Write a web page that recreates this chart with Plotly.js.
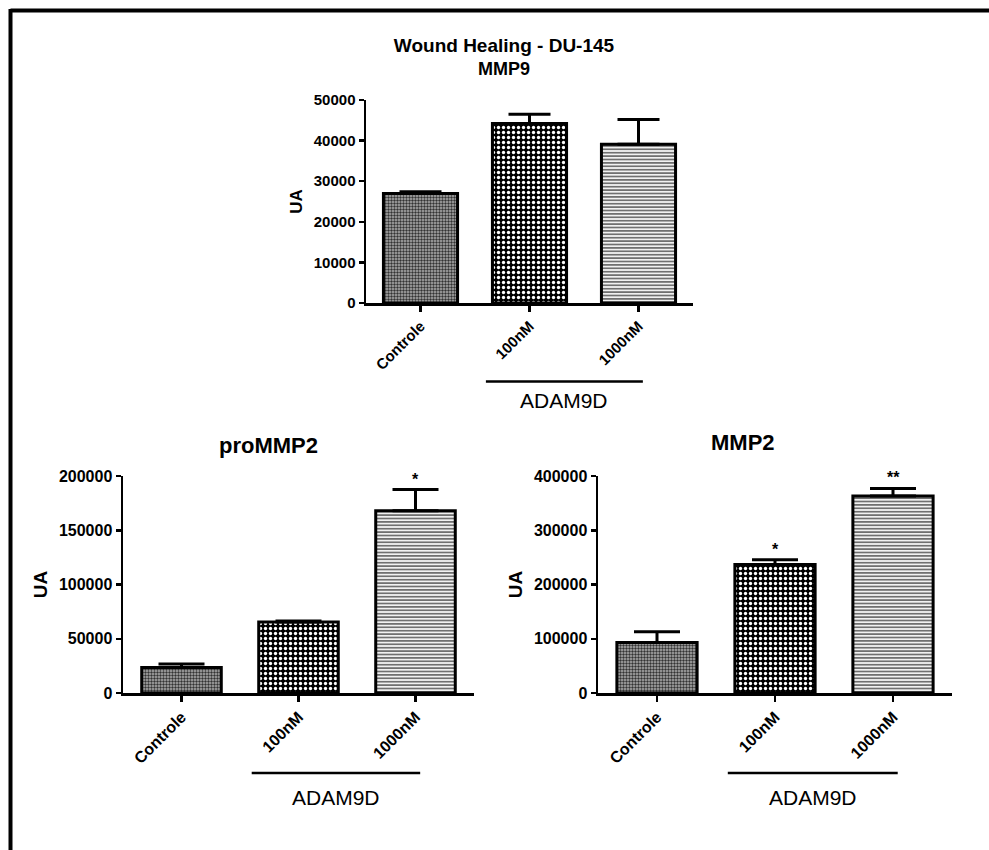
<!DOCTYPE html>
<html>
<head>
<meta charset="utf-8">
<script src="https://cdn.plot.ly/plotly-3.0.1.min.js"></script>
<style>
html,body{margin:0;padding:0;background:#fff;}
#chart{width:989px;height:850px;}
</style>
</head>
<body>
<div id="chart"></div>
<script>
// ---- data ----
const categories = ['Controle', '100nM', '1000nM'];

const mmp9Means = [27000, 44200, 39100];
const mmp9Err = [400, 2300, 6100];

const proMmp2Means = [23600, 65500, 168000];
const proMmp2Err = [3100, 800, 19500];

const mmp2Means = [93000, 237000, 363000];
const mmp2Err = [20000, 8500, 14000];

const mmp9Ticks = [0, 10000, 20000, 30000, 40000, 50000];
const proMmp2Ticks = [0, 50000, 100000, 150000, 200000];
const mmp2Ticks = [0, 100000, 200000, 300000, 400000];

const proMmp2Sig = ['', '', '*'];
const mmp2Sig = ['', '*', '**'];

const mainTitle = 'Wound Healing - DU-145';
const mainSubtitle = 'MMP9';
const proMmp2Title = 'proMMP2';
const mmp2Title = 'MMP2';
const yTitle = 'UA';
const groupLabel = 'ADAM9D';

// ---- layout helpers ----
const W = 989, H = 850;
const px = v => v / W;
const py = v => 1 - v / H;
const FONT = 'Liberation Sans, Arial, Helvetica, sans-serif';

const patternStyle = {
  shape: ['.', '.', '-'],
  fgcolor: ['#333333', '#ffffff', '#707070'],
  bgcolor: ['#b0b0b0', '#000000', '#ffffff'],
  size: [3, 5, 3.4],
  solidity: [0.5, 0.35, 0.55],
  fillmode: 'replace'
};

function barTrace(vals, errs, xa, ya, capw) {
  return {
    type: 'bar',
    x: categories,
    y: vals,
    xaxis: xa, yaxis: ya,
    width: 0.68,
    marker: {
      color: '#ffffff',
      line: {color: '#000', width: 3},
      pattern: patternStyle
    },
    error_y: {
      type: 'data', symmetric: false,
      array: errs, arrayminus: errs.map(() => 0),
      color: '#000', thickness: 3, width: capw
    },
    hoverinfo: 'x+y',
    showlegend: false
  };
}

function xAxis(d0, d1, anchor, fs) {
  return {
    domain: [px(d0), px(d1)], anchor: anchor,
    type: 'category', range: [-0.5, 2.5],
    showline: true, linecolor: '#000', linewidth: 2.5,
    ticks: 'outside', ticklen: 6, tickwidth: 2.5, tickcolor: '#000',
    tickangle: -45,
    tickfont: {family: FONT, size: fs, color: '#000', weight: 'bold'},
    showgrid: false, zeroline: false, fixedrange: true
  };
}

function yAxis(y0, y1, anchor, ticks, fs, tfs, standoff) {
  return {
    domain: [py(y0), py(y1)], anchor: anchor,
    range: [ticks[0], ticks[ticks.length - 1]],
    tickvals: ticks, tickformat: 'd',
    showline: true, linecolor: '#000', linewidth: 2.5,
    ticks: 'outside', ticklen: 5, tickwidth: 2.5, tickcolor: '#000',
    tickfont: {family: FONT, size: fs, color: '#000', weight: 'bold'},
    title: {text: yTitle, font: {family: FONT, size: tfs, color: '#000', weight: 'bold'}, standoff: standoff},
    showgrid: false, zeroline: false, fixedrange: true
  };
}

const data = [
  barTrace(mmp9Means, mmp9Err, 'x', 'y', 21),
  barTrace(proMmp2Means, proMmp2Err, 'x2', 'y2', 23),
  barTrace(mmp2Means, mmp2Err, 'x3', 'y3', 23)
];

const annotations = [
  {text: '<b>' + mainSubtitle + '</b>', xref: 'paper', yref: 'paper', x: px(504), y: py(69),
   xanchor: 'center', yanchor: 'middle', showarrow: false, font: {family: FONT, size: 18, color: '#000'}},
  {text: '<b>' + proMmp2Title + '</b>', xref: 'paper', yref: 'paper', x: px(268), y: py(445),
   xanchor: 'center', yanchor: 'middle', showarrow: false, font: {family: FONT, size: 22, color: '#000'}},
  {text: '<b>' + mmp2Title + '</b>', xref: 'paper', yref: 'paper', x: px(743), y: py(443),
   xanchor: 'center', yanchor: 'middle', showarrow: false, font: {family: FONT, size: 22, color: '#000'}},
  {text: groupLabel, xref: 'x', yref: 'paper', x: 1.32, y: py(401),
   xanchor: 'center', yanchor: 'middle', showarrow: false, font: {family: FONT, size: 21, color: '#000'}},
  {text: groupLabel, xref: 'x2', yref: 'paper', x: 1.32, y: py(797),
   xanchor: 'center', yanchor: 'middle', showarrow: false, font: {family: FONT, size: 21, color: '#000'}},
  {text: groupLabel, xref: 'x3', yref: 'paper', x: 1.32, y: py(797),
   xanchor: 'center', yanchor: 'middle', showarrow: false, font: {family: FONT, size: 21, color: '#000'}}
];

proMmp2Sig.forEach((s, i) => {
  if (!s) return;
  annotations.push({text: '<b>' + s + '</b>', xref: 'x2', yref: 'y2', x: categories[i],
    y: proMmp2Means[i] + proMmp2Err[i], xanchor: 'center', yanchor: 'bottom',
    showarrow: false, font: {family: FONT, size: 16, color: '#000'}});
});
mmp2Sig.forEach((s, i) => {
  if (!s) return;
  annotations.push({text: '<b>' + s + '</b>', xref: 'x3', yref: 'y3', x: categories[i],
    y: mmp2Means[i] + mmp2Err[i], xanchor: 'center', yanchor: 'bottom',
    showarrow: false, font: {family: FONT, size: 16, color: '#000'}});
});

const groupLine = (xr, yp) => ({type: 'line', xref: xr, yref: 'paper',
  x0: 0.6, x1: 2.04, y0: py(yp), y1: py(yp), line: {color: '#000', width: 2.5}});

const shapes = [
  groupLine('x', 381.5),
  groupLine('x2', 773),
  groupLine('x3', 773),
  // outer frame (left and top edges)
  {type: 'line', xref: 'paper', yref: 'paper', x0: px(10.5), x1: 1, y0: py(10.5), y1: py(10.5), line: {color: '#000', width: 4}},
  {type: 'line', xref: 'paper', yref: 'paper', x0: px(10.5), x1: px(10.5), y0: py(9), y1: 0, line: {color: '#000', width: 4}}
];

const layout = {
  width: W, height: H,
  margin: {l: 0, r: 0, t: 0, b: 0},
  paper_bgcolor: '#fff', plot_bgcolor: '#fff',
  showlegend: false,
  title: {text: '<b>' + mainTitle + '</b>', x: px(504), xanchor: 'center', xref: 'paper',
          y: py(45), yanchor: 'middle', yref: 'container',
          font: {family: FONT, size: 19, color: '#000'}},
  xaxis: xAxis(366, 693, 'y', 15),
  yaxis: yAxis(303, 100, 'x', mmp9Ticks, 15, 17, 7),
  xaxis2: xAxis(123, 474, 'y2', 16),
  yaxis2: yAxis(693, 476, 'x2', proMmp2Ticks, 16, 19, 7),
  xaxis3: xAxis(598, 952, 'y3', 16),
  yaxis3: yAxis(693, 476, 'x3', mmp2Ticks, 16, 19, 7),
  annotations: annotations,
  shapes: shapes
};

Plotly.newPlot('chart', data, layout, {displayModeBar: false, staticPlot: true});
</script>
</body>
</html>
